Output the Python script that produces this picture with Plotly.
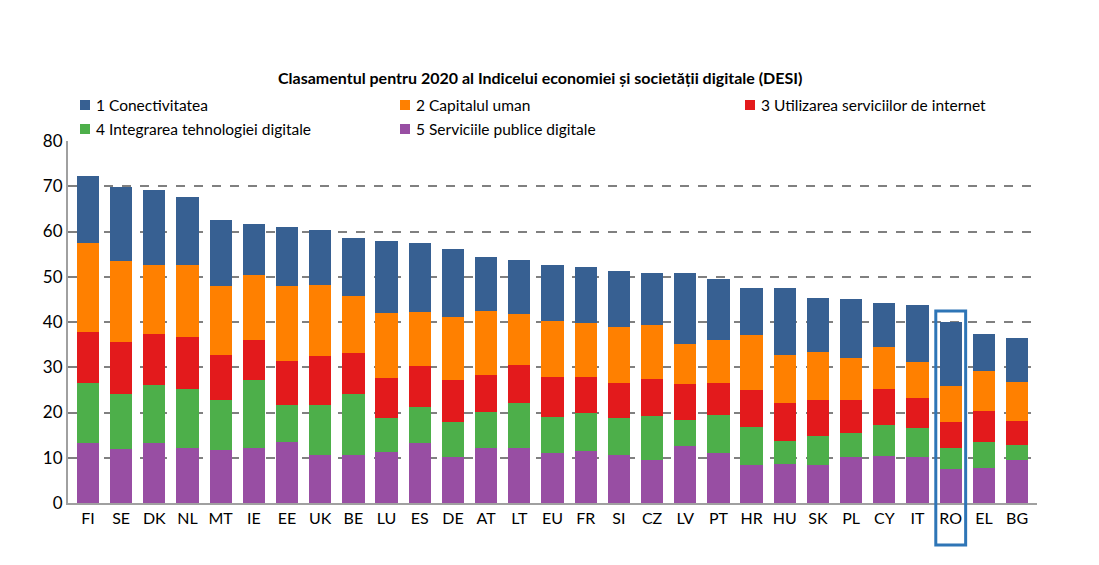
import plotly.graph_objects as go

countries = ["FI","SE","DK","NL","MT","IE","EE","UK","BE","LU","ES","DE","AT","LT","EU","FR","SI","CZ","LV","PT","HR","HU","SK","PL","CY","IT","RO","EL","BG"]
# cumulative levels
cum_purple = [13.2,12,13.2,12.2,11.7,12.2,13.5,10.6,10.6,11.3,13.2,10.1,12.2,12.2,11,11.4,10.7,9.6,12.7,11.1,8.4,8.7,8.4,10.1,10.4,10.1,7.5,7.8,9.4]
cum_green = [26.5,24.2,26,25.3,22.8,27.1,21.6,21.6,24,18.8,21.2,18,20.2,22.1,19,20,18.8,19.3,18.4,19.4,16.7,13.6,14.9,15.4,17.2,16.5,12.2,13.5,12.9]
cum_red = [37.8,35.5,37.4,36.6,32.6,36.1,31.3,32.4,33.1,27.6,30.3,27.1,28.3,30.5,27.8,27.8,26.6,27.3,26.4,26.5,25,22,22.8,22.8,25.3,23.1,17.8,20.3,18.2]
cum_orange = [57.5,53.5,52.5,52.5,48,50.3,48,48.2,45.7,41.9,42.2,41.2,42.5,41.7,40.2,39.7,38.8,39.4,35.2,36.1,37.1,32.6,33.4,32.1,34.4,31.1,25.9,29.1,26.8]
total = [72.2,69.8,69.2,67.6,62.6,61.6,61.1,60.4,58.6,57.8,57.5,56.1,54.3,53.8,52.6,52.2,51.3,50.8,50.8,49.5,47.6,47.5,45.2,45,44.1,43.8,40,37.4,36.4]

servicii_publice = cum_purple
integrare = [b - a for a, b in zip(cum_purple, cum_green)]
utilizare = [b - a for a, b in zip(cum_green, cum_red)]
capital = [b - a for a, b in zip(cum_red, cum_orange)]
conectivitate = [b - a for a, b in zip(cum_orange, total)]

series = [
    ("1 Conectivitatea", conectivitate, "#376092"),
    ("2 Capitalul uman", capital, "#FF8000"),
    ("3 Utilizarea serviciilor de internet", utilizare, "#E31A1C"),
    ("4 Integrarea tehnologiei digitale", integrare, "#4DAF4A"),
    ("5 Serviciile publice digitale", servicii_publice, "#984EA3"),
]

L, T, B, W, H = 60, 133, 495, 1099, 565
PW, PH = W - L - 70, B - T
def px(x): return (x - L) / PW
def py(y): return (B - y) / PH

fig = go.Figure()
for i in [4, 3, 2, 1, 0]:
    name, vals, col = series[i]
    fig.add_trace(go.Bar(x=countries, y=vals, name=name, marker_color=col,
                         marker_line_width=0, showlegend=False))

# manual legend (3 columns, 2 rows)
legend_pos = [(72, 97), (392, 97), (737, 97), (72, 121), (392, 121)]
for (name, _, col), (lx, ly) in zip(series, legend_pos):
    fig.add_shape(type="rect", xref="paper", yref="paper",
                  x0=px(lx), x1=px(lx + 10), y0=py(ly + 5), y1=py(ly - 5),
                  fillcolor=col, line_width=0)
    fig.add_annotation(xref="paper", yref="paper", x=px(lx + 14), y=py(ly),
                       text=name, showarrow=False, xanchor="left", yanchor="middle",
                       font=dict(size=15.5))

fig.add_annotation(xref="paper", yref="paper", x=px(532), y=py(70),
                   text="<b>Clasamentul pentru 2020 al Indicelui economiei și societății digitale (DESI)</b>",
                   showarrow=False, xanchor="center", yanchor="middle", font=dict(size=16))

fig.add_shape(type="rect", xref="x", yref="paper", x0=25.55, x1=26.45, y0=py(537), y1=py(303),
              line=dict(color="#2E75B6", width=3), fillcolor="rgba(0,0,0,0)", layer="above")

fig.update_layout(
    barmode="stack", bargap=0.33,
    width=W, height=H,
    margin=dict(l=L, r=70, t=T, b=H - B, autoexpand=False),
    plot_bgcolor="white", paper_bgcolor="white",
    font=dict(family="Lato, Liberation Sans, sans-serif", size=16, color="#000"),
    showlegend=False,
    xaxis=dict(showgrid=False, showline=True, linecolor="#A0A0A0", linewidth=2,
               ticks="", tickfont=dict(size=16), range=[-0.6, 28.6], automargin=False),
    yaxis=dict(range=[0, 80], dtick=10, showgrid=True, gridcolor="#808080", griddash="dash",
               gridwidth=1.5, showline=True, linecolor="#A0A0A0", linewidth=2,
               zeroline=False, tickfont=dict(size=17), ticks="", automargin=False),
)
fig.write_html("out.html")
